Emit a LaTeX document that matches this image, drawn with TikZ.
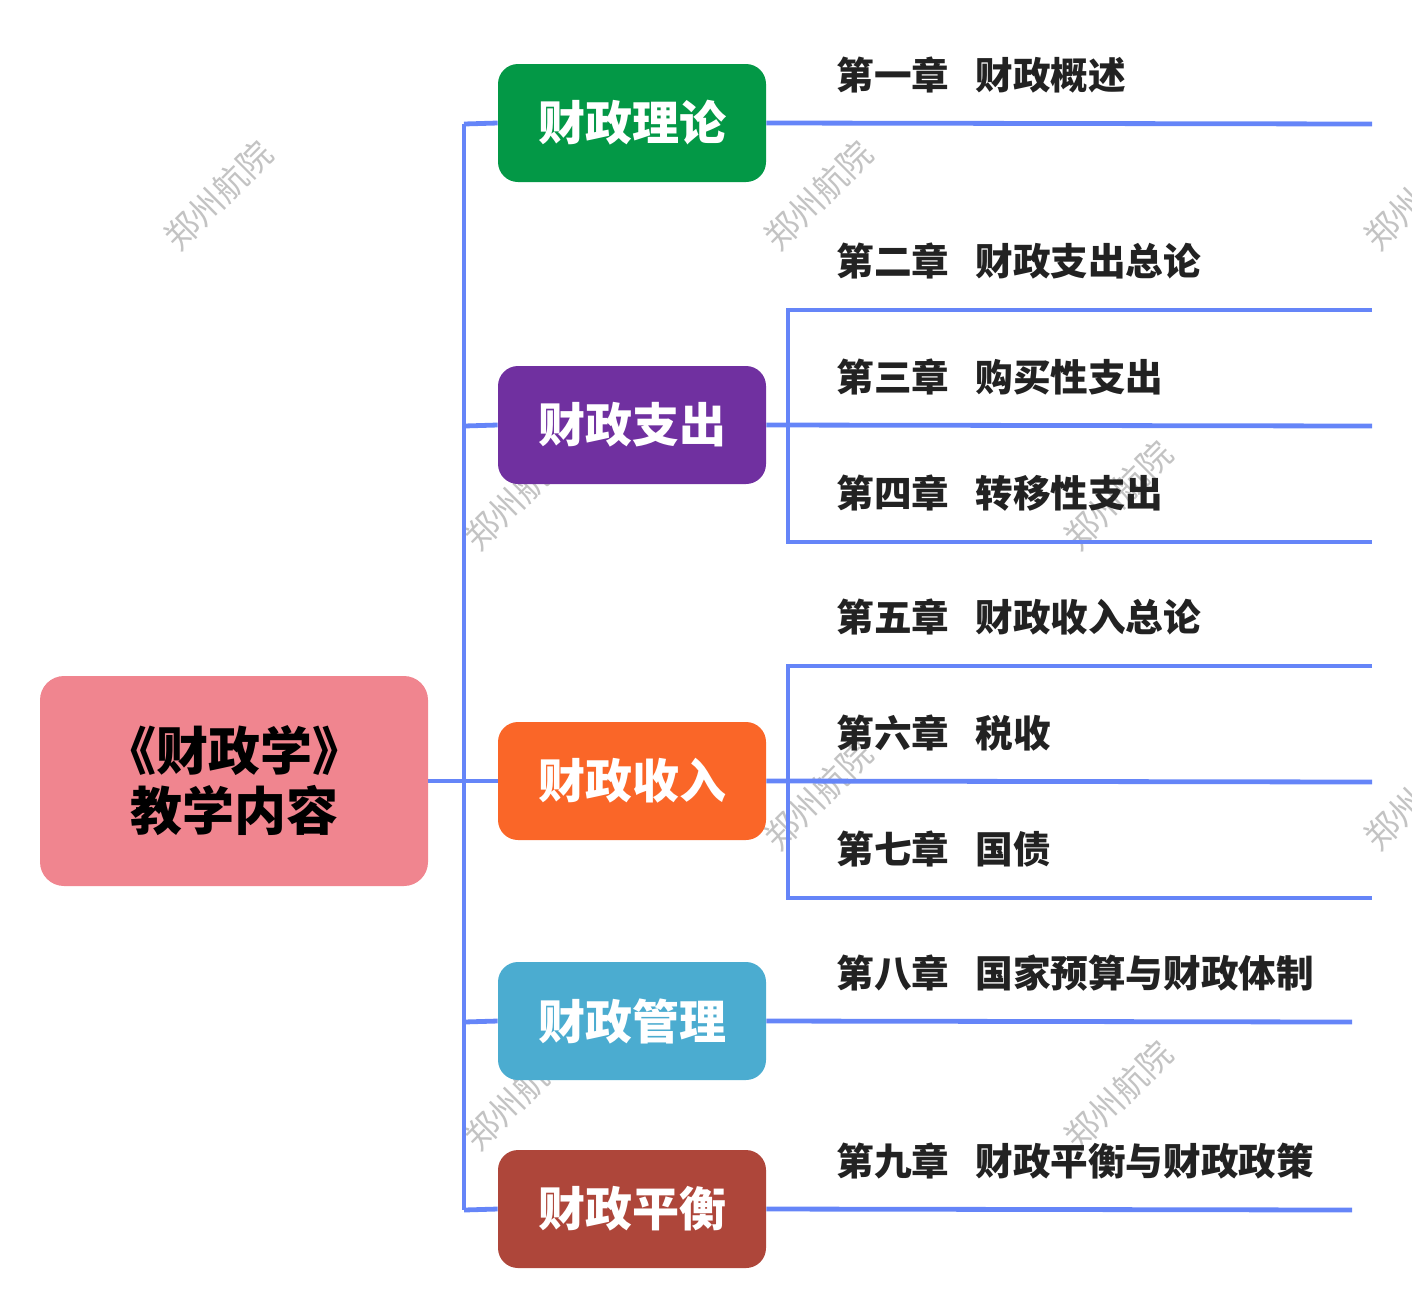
\documentclass[tikz,border=0pt]{standalone}
\usepackage{fontspec}
\newfontfamily\cjk{Noto Sans CJK SC}
\definecolor{linkblue}{RGB}{101,133,248}
\definecolor{tgreen}{RGB}{3,152,70}
\definecolor{tpurple}{RGB}{112,48,160}
\definecolor{torange}{RGB}{250,102,40}
\definecolor{tblue}{RGB}{75,172,208}
\definecolor{tbrown}{RGB}{174,70,58}
\definecolor{tpink}{RGB}{240,133,143}
\definecolor{leafgray}{RGB}{34,34,34}
\definecolor{stampgray}{RGB}{195,195,195}
\tikzset{
  link/.style={draw=linkblue, line width=2.4pt},
  branch/.style={rounded corners=10pt, minimum width=134pt, minimum height=59pt,
    text=white, font=\cjk\bfseries\fontsize{23.5}{27}\selectfont},
  leaf/.style={anchor=west, inner sep=0pt, text=leafgray,
    font=\cjk\bfseries\fontsize{18.8}{22}\selectfont},
  stamp/.style={rotate=45, text=stampgray, font=\cjk\fontsize{17}{20}\selectfont}
}
\begin{document}
\begin{tikzpicture}[x=0.5pt, y=-0.5pt]
  \useasboundingbox (0,0) rectangle (1412,1308);
  % watermarks
  \foreach \sx/\sy in {218/195, 818/195, 1418/195, 518/495, 1118/495,
      818/795, 1418/795, 518/1095, 1118/1095}
    \node[stamp] at (\sx,\sy) {郑州航院};
  % root and branches
  \node[rounded corners=12pt, fill=tpink, minimum width=194pt, minimum height=105pt,
    align=center, font=\cjk\bfseries\fontsize{26}{30}\selectfont] (root) at (234,781)
    {《财政学》\\教学内容};
  \node[branch, fill=tgreen] (b1) at (632,123) {财政理论};
  \node[branch, fill=tpurple] (b2) at (632,425) {财政支出};
  \node[branch, fill=torange] (b3) at (632,781) {财政收入};
  \node[branch, fill=tblue] (b4) at (632,1021) {财政管理};
  \node[branch, fill=tbrown] (b5) at (632,1209) {财政平衡};
  % trunk
  \coordinate (t1) at (464,124); \coordinate (t2) at (464,426);
  \coordinate (t4) at (464,1022); \coordinate (t5) at (464,1210);
  \draw[link] (t1) -- (t5);
  \draw[link] (t1) -- (b1.west);
  \draw[link] (t2) -- (b2.west);
  \draw[link] (root.east) -- (b3.west);
  \draw[link] (t4) -- (b4.west);
  \draw[link] (t5) -- (b5.west);
  % leaf lines
  \coordinate (e1) at (1372,124);
  \coordinate (v2a) at (788,310); \coordinate (v2b) at (788,542);
  \coordinate (e2) at (1372,310); \coordinate (e3) at (1372,426);
  \coordinate (e4) at (1372,542);
  \coordinate (v3a) at (788,666); \coordinate (v3b) at (788,898);
  \coordinate (e5) at (1372,666); \coordinate (e6) at (1372,782);
  \coordinate (e7) at (1372,898);
  \coordinate (e8) at (1352,1022); \coordinate (e9) at (1352,1210);
  \draw[link] (b1.east) -- (e1);
  \draw[link] (e2) -- (v2a) -- (v2b) -- (e4);
  \draw[link] (b2.east) -- (e3);
  \draw[link] (e5) -- (v3a) -- (v3b) -- (e7);
  \draw[link] (b3.east) -- (e6);
  \draw[link] (b4.east) -- (e8);
  \draw[link] (b5.east) -- (e9);
  % chapter labels
  \node[leaf] (l1) at (836,75) {第一章\hspace{0.7em}财政概述};
  \node[leaf] (l2) at (836,261) {第二章\hspace{0.7em}财政支出总论};
  \node[leaf] (l3) at (836,377) {第三章\hspace{0.7em}购买性支出};
  \node[leaf] (l4) at (836,493) {第四章\hspace{0.7em}转移性支出};
  \node[leaf] (l5) at (836,617) {第五章\hspace{0.7em}财政收入总论};
  \node[leaf] (l6) at (836,733) {第六章\hspace{0.7em}税收};
  \node[leaf] (l7) at (836,849) {第七章\hspace{0.7em}国债};
  \node[leaf] (l8) at (836,973) {第八章\hspace{0.7em}国家预算与财政体制};
  \node[leaf] (l9) at (836,1161) {第九章\hspace{0.7em}财政平衡与财政政策};
\end{tikzpicture}
\end{document}
